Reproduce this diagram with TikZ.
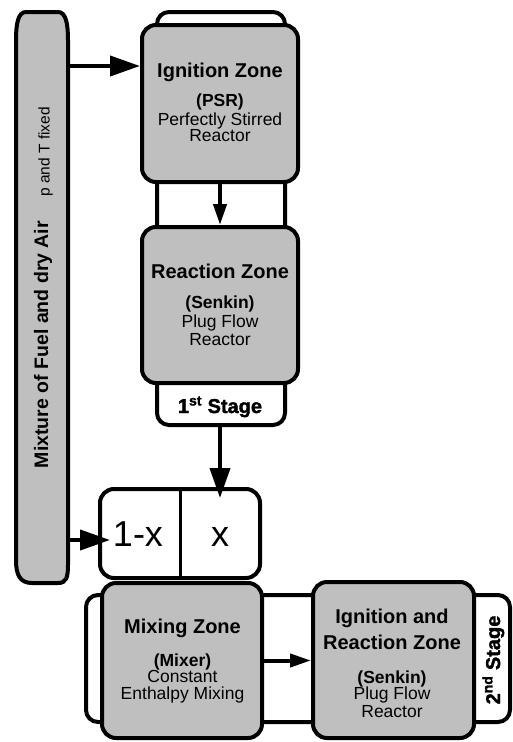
\documentclass[tikz,border=0pt]{standalone}
\usepackage{fontspec}
\setmainfont{Liberation Sans}
\newfontfamily\heavyfont[FakeBold=1.6]{Liberation Sans Bold}
\usetikzlibrary{arrows.meta}
\definecolor{zonegray}{RGB}{191,191,191}

\begin{document}
\begin{tikzpicture}[x=1pt,y=-1pt,
  zone/.style={draw, line width=4pt, fill=zonegray, rounded corners=14pt, inner sep=0pt},
  stageframe/.style={draw, line width=4pt, fill=white, rounded corners=12pt, inner sep=0pt},
  barline/.style={draw, line width=4pt, fill=zonegray},
  splitbox/.style={draw, line width=4pt, fill=white, rounded corners=14pt, inner sep=0pt},
  bigflow/.style={line width=4pt, -{Triangle[length=30pt,width=20pt]}},
  smallflow/.style={line width=4pt, -{Triangle[length=21pt,width=13pt]}},
  ztitle/.style={font=\bfseries\fontsize{20}{22}\selectfont, anchor=base, inner sep=0pt},
  zbold/.style={font=\bfseries\fontsize{17.5}{19}\selectfont, anchor=base, inner sep=0pt},
  zbody/.style={font=\fontsize{17.5}{19}\selectfont, anchor=base, inner sep=0pt},
  stagelabel/.style={font=\heavyfont\fontsize{20}{22}\selectfont, anchor=base, inner sep=0pt},
  fraction/.style={font=\fontsize{36}{38}\selectfont, anchor=base, inner sep=0pt}
]
\useasboundingbox (0,0) rectangle (513,742);

% stage frames behind the zones
\node[stageframe, minimum width=128pt, minimum height=413pt] (stage1) at (221,218.5) {};
\node[stageframe, minimum width=424pt, minimum height=127pt] (stage2) at (298,658.5) {};

% feed bar on the left (slightly barrel-shaped ends)
\node[minimum width=52pt, minimum height=571pt, inner sep=0pt] (bar) at (42,297.5) {};
\path[barline] (16,560) -- (16,40) .. controls (16,24) and (18,12) .. (26,12)
  -- (58,12) .. controls (66,12) and (68,24) .. (68,40)
  -- (68,565) .. controls (68,578) and (66,583) .. (58,583)
  -- (32,583) .. controls (20,583) and (16,575) .. (16,560) -- cycle;
\node[font=\bfseries\fontsize{19.5}{22}\selectfont, rotate=90, anchor=base, inner sep=0pt] (barlabel) at (48,344.5) {Mixture of Fuel and dry Air};
\node[font=\fontsize{15.5}{17}\selectfont, rotate=90, anchor=base, inner sep=0pt] (barnote) at (49.5,152) {p and T fixed};

% first stage zones
\node[zone, minimum width=156pt, minimum height=157pt] (ign) at (220,103.5) {};
\node[ztitle] (ign-t) at (220,77) {Ignition Zone};
\node[zbold] (ign-a) at (220,106) {(PSR)};
\node[zbody] (ign-b) at (220,125) {Perfectly Stirred};
\node[zbody] (ign-c) at (220,141) {Reactor};

\node[zone, minimum width=156pt, minimum height=156pt] (reac) at (220,305) {};
\node[ztitle] (reac-t) at (220,278) {Reaction Zone};
\node[zbold] (reac-a) at (220,308) {(Senkin)};
\node[zbody] (reac-b) at (220,327) {Plug Flow};
\node[zbody] (reac-c) at (220,345) {Reactor};

\node[stagelabel] (st1) at (220,413) {1\textsuperscript{st} Stage};

% flow split
\node[splitbox, minimum width=160pt, minimum height=89pt] (split) at (180,533.5) {};
\draw[line width=3pt] (split.north) -- (split.south);
\node[fraction] (oneminus) at (138,546) {1-x};
\node[fraction] (xpart) at (220,546) {x};

% second stage zones
\node[zone, minimum width=160pt, minimum height=155pt] (mix) at (182,660.5) {};
\node[ztitle] (mix-t) at (182.5,633) {Mixing Zone};
\node[zbold] (mix-a) at (182.5,666) {(Mixer)};
\node[zbody] (mix-b) at (182.5,682) {Constant};
\node[zbody] (mix-c) at (182.5,699) {Enthalpy Mixing};

\node[zone, minimum width=161pt, minimum height=156pt] (ir) at (393.5,660) {};
\node[ztitle] (ir-t1) at (392,623) {Ignition and};
\node[ztitle] (ir-t2) at (392,649) {Reaction Zone};
\node[zbold] (ir-a) at (392,683) {(Senkin)};
\node[zbody] (ir-b) at (392,699) {Plug Flow};
\node[zbody] (ir-c) at (392,717) {Reactor};

\node[stagelabel, rotate=90] (st2) at (500,660) {2\textsuperscript{nd} Stage};

% connectors
\draw[bigflow] (bar.east |- 0,66) -- (ign.west |- 0,66);
\draw[smallflow] (ign.south) -- (reac.north);
\draw[bigflow, shorten >=-11pt] (stage1.south -| split.north) ++(40,0) coordinate (st1out) -- (st1out |- split.north);
\draw[bigflow, shorten >=-12pt] (bar.east |- 0,540) -- (split.west |- 0,540);
\draw[smallflow] (mix.east) -- (ir.west |- mix.east);
\end{tikzpicture}
\end{document}
